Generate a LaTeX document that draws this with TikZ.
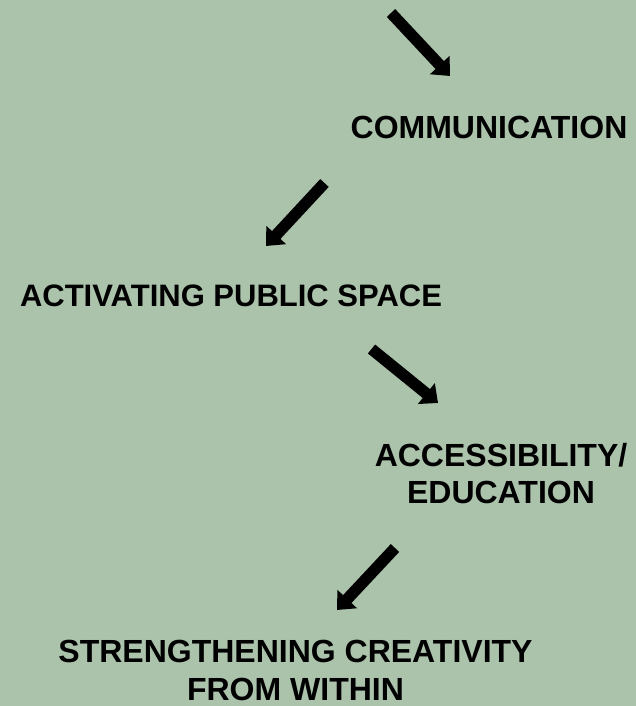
\documentclass[tikz,border=0pt]{standalone}
\usepackage{fontspec}
\setmainfont{Liberation Sans}
\usetikzlibrary{arrows.meta}
\definecolor{sage}{RGB}{171,194,171}
\tikzset{
  label/.style={font=\fontsize{32}{37}\selectfont\bfseries, inner sep=0pt, anchor=base, align=center},
  bigarrow/.style={line width=11.5pt, -{Triangle[length=15pt,width=26pt]}}
}
\begin{document}
\begin{tikzpicture}[x=1pt, y=-1pt]
    % Background
    \fill[sage] (0,0) rectangle (636,706);
    \useasboundingbox (0,0) rectangle (636,706);

    % Labels (base = last line)
    \node[label] (comm) at (489,139) {COMMUNICATION};
    \node[label, font=\fontsize{31}{37}\selectfont\bfseries] (space) at (231,306) {ACTIVATING PUBLIC SPACE};
    \node[label] (access) at (501,503) {ACCESSIBILITY/\\EDUCATION};
    \node[label, font=\fontsize{32}{38}\selectfont\bfseries] (create) at (295.5,700) {STRENGTHENING CREATIVITY\\FROM WITHIN};

    % Arrow ends
    \coordinate (a1) at (391,13);
    \coordinate (b1) at (450,76);
    \coordinate (a2) at (324.5,183);
    \coordinate (b2) at (266,246);
    \coordinate (a3) at (371.5,349);
    \coordinate (b3) at (438,403);
    \coordinate (a4) at (395,548);
    \coordinate (b4) at (337,610);

    % Arrows
    \draw[bigarrow] (a1) -- (b1);
    \draw[bigarrow] (a2) -- (b2);
    \draw[bigarrow] (a3) -- (b3);
    \draw[bigarrow] (a4) -- (b4);

\end{tikzpicture}
\end{document}
